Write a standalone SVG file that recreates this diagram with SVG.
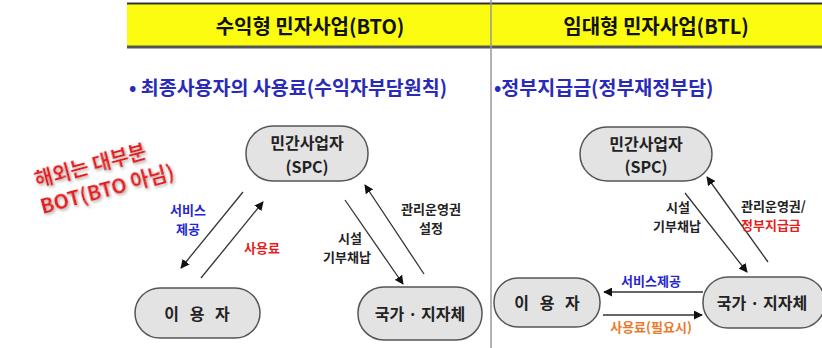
<svg xmlns="http://www.w3.org/2000/svg" width="822" height="348" viewBox="0 0 822 348">
<defs>
<style>
text{font-family:"Noto Sans CJK KR","Noto Sans",sans-serif;font-weight:bold;text-anchor:middle;dominant-baseline:central}
.node rect{fill:#e3e3e3;stroke:#555;stroke-width:1.5}
.nt{font-size:16px;fill:#222}
.sp{word-spacing:7px}
.title{font-size:20px;fill:#111}
.sub{font-size:19.5px;fill:#2a2ab8;text-anchor:start}
.lbl{font-size:13px;fill:#222}
.blue{fill:#2626d0}
.red{fill:#e61e1e}
.orange{fill:#ec7a2c}
.conn line{stroke:#333;stroke-width:1.3;marker-end:url(#ah)}
</style>
<marker id="ah" viewBox="0 0 10 10" refX="9" refY="5" markerWidth="9" markerHeight="9" markerUnits="userSpaceOnUse" orient="auto"><path d="M0,0 L10,5 L0,10 z" fill="#111"/></marker>
<filter id="glow" x="-20%" y="-40%" width="140%" height="180%"><feDropShadow dx="1" dy="2" stdDeviation="1.5" flood-color="#b0b0b0"/></filter>
</defs>
<rect width="822" height="348" fill="#fff"/>
<g id="header">
<rect x="127" y="3" width="695" height="43" fill="#fcfc10"/>
<line x1="127" y1="3.5" x2="822" y2="3.5" stroke="#333" stroke-width="2"/>
<line x1="127" y1="47" x2="822" y2="47" stroke="#555" stroke-width="3"/>
<line x1="491" y1="0" x2="491" y2="348" stroke="#999" stroke-width="1.5"/>
<text class="title" x="310" y="25">수익형 민자사업(BTO)</text>
<text class="title" x="656" y="25">임대형 민자사업(BTL)</text>
</g>
<text class="sub" x="129" y="86">• 최종사용자의 사용료(수익자부담원칙)</text>
<text class="sub" x="494" y="86">•정부지급금(정부재정부담)</text>
<g id="note" transform="rotate(-15 100 178)" filter="url(#glow)">
<text x="94" y="163" font-size="20" fill="#e61e1e">해외는 대부분</text>
<text x="104" y="190" font-size="20" fill="#e61e1e">BOT(BTO 아님)</text>
</g>
<g id="L-spc" class="node"><rect x="246" y="126" width="122" height="55" rx="27"/><text class="nt" x="307" y="142">민간사업자</text><text class="nt" x="307" y="166">(SPC)</text></g>
<g id="L-user" class="node"><rect x="135" y="288" width="125" height="50" rx="25"/><text class="nt sp" x="197" y="313" font-size="17">이 용 자</text></g>
<g id="L-gov" class="node"><rect x="358" y="287" width="124" height="53" rx="26"/><text class="nt" x="420" y="313" font-size="17">국가 · 지자체</text></g>
<g id="R-spc" class="node"><rect x="580" y="127" width="132" height="54" rx="27"/><text class="nt" x="646" y="143">민간사업자</text><text class="nt" x="646" y="166">(SPC)</text></g>
<g id="R-user" class="node"><rect x="494" y="278" width="106" height="49" rx="24"/><text class="nt sp" x="547" y="302" font-size="17">이 용 자</text></g>
<g id="R-gov" class="node"><rect x="703" y="277" width="122" height="51" rx="25"/><text class="nt" x="762" y="302" font-size="17">국가 · 지자체</text></g>
<g id="connectors" class="conn">
<line x1="243" y1="192" x2="181" y2="268"/>
<line x1="201" y1="278" x2="263" y2="202"/>
<line x1="345" y1="200" x2="403" y2="284"/>
<line x1="424" y1="274" x2="365" y2="185"/>
<line x1="685" y1="193" x2="747" y2="272"/>
<line x1="768" y1="262" x2="707" y2="177"/>
<line x1="703" y1="292" x2="604" y2="292"/>
<line x1="603" y1="315" x2="702" y2="315"/>
</g>
<g id="labels">
<text class="lbl blue" x="188" y="209">서비스</text>
<text class="lbl blue" x="188" y="228">제공</text>
<text class="lbl red" x="262" y="247" font-size="16">사용료</text>
<text class="lbl" x="350" y="237">시설</text>
<text class="lbl" x="347" y="256">기부채납</text>
<text class="lbl" x="431" y="208">관리운영권</text>
<text class="lbl" x="431" y="227">설정</text>
<text class="lbl" x="678" y="206">시설</text>
<text class="lbl" x="677" y="225">기부채납</text>
<text class="lbl" x="741" y="205" style="text-anchor:start">관리운영권/</text>
<text class="lbl red" x="741" y="224" style="text-anchor:start">정부지급금</text>
<text class="lbl blue" x="651" y="280">서비스제공</text>
<text class="lbl orange" x="651" y="326">사용료(필요시)</text>
</g>
</svg>
